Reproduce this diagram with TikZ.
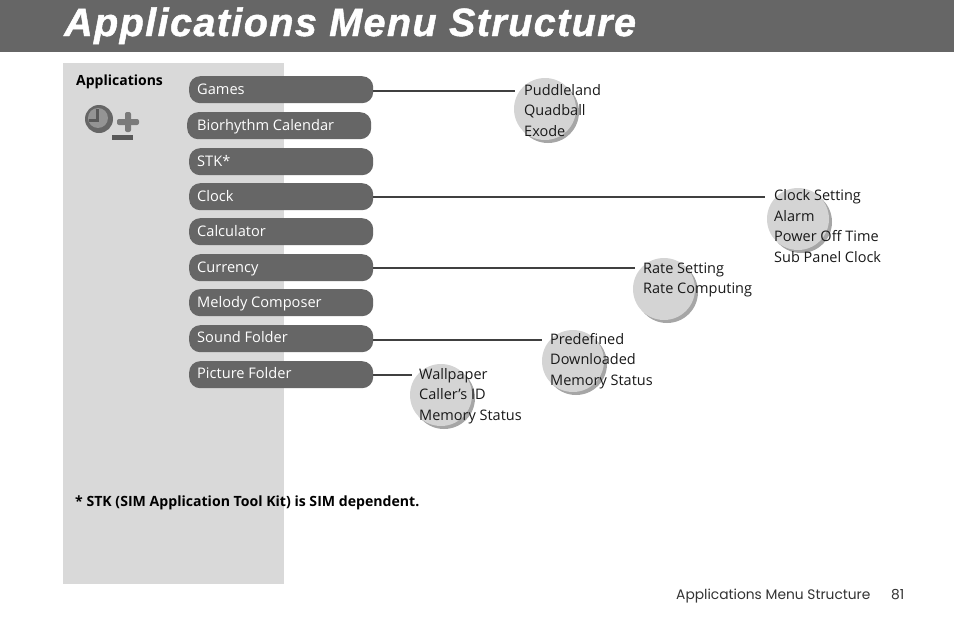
\documentclass[tikz,border=0pt]{standalone}
\usepackage{fontspec}
\setmainfont[Ligatures=NoCommon]{Open Sans}
\newfontfamily\titlefont[LetterSpace=3.6,BoldItalicFeatures={FakeBold=1.2}]{Liberation Sans}
\newfontfamily\footfont{Poppins}
\colorlet{barcol}{black!60}
\definecolor{panelcol}{gray}{0.85}
\definecolor{shadecol}{gray}{0.65}
\definecolor{disccol}{gray}{0.83}
\tikzset{
  x=1pt,y=-1pt,
  menubar/.style={fill=barcol,rounded corners=11pt,minimum width=184pt,minimum height=27pt,inner sep=0pt,anchor=north west},
  barlabel/.style={text=white,font=\fontsize{14.6}{14.6}\selectfont,anchor=base west,inner sep=0pt},
  listrow/.style={font=\fontsize{14.5}{14.5}\selectfont,anchor=base west,inner sep=0pt,text=black!90},
  disc/.style={circle,fill=disccol,minimum size=62pt,inner sep=0pt},
  discshade/.style={circle,fill=shadecol,minimum size=62pt,inner sep=0pt},
  linkline/.style={draw=black!75,line width=1.7pt},
}
\newcommand{\menuitem}[5]{%
  \node[menubar] (#1) at (#2,#3) {};
  \node[barlabel] (#1t) at (197,#4) {#5};
}
\newcommand{\roundel}[3]{%
  \node[discshade] (#1s) at (#2+3,#3+3) {};
  \node[disc] (#1) at (#2,#3) {};
}
\begin{document}
\begin{tikzpicture}
\useasboundingbox (0,0) rectangle (954,624);
\fill[white] (0,0) rectangle (954,624);
\fill[barcol] (0,0) rectangle (954,52);
\node[anchor=base west,inner sep=0pt,text=white,font=\titlefont\fontsize{39.5}{39.5}\selectfont\bfseries\itshape] (title) at (64,36) {Applications Menu Structure};
\fill[panelcol] (63,63) rectangle (284,584);
\node[anchor=base west,inner sep=0pt,font=\fontsize{14}{14}\selectfont\bfseries] (apps) at (76,85) {Applications};
% icon
\fill[black!60] (99,119) circle (14pt);
\fill[black!42] (98,118) circle (10pt);
\fill[black!65] (96,109) rectangle (99,120);
\fill[black!65] (89,119) rectangle (99,122);
\fill[black!52,rounded corners=2pt] (117,119) rectangle (139,125);
\fill[black!52,rounded corners=2pt] (125,112) rectangle (131,132);
\fill[black!65] (112,135) rectangle (133,140);
% discs
\roundel{d1}{545}{109}
\roundel{d2}{798}{219}
\roundel{d3}{664}{289}
\roundel{d4}{573}{361}
\roundel{d5}{441}{395}
% bars
\menuitem{games}{189}{76}{94}{Games}
\menuitem{bio}{187}{112}{130}{Biorhythm Calendar}
\menuitem{stk}{189}{148}{166}{STK*}
\menuitem{clock}{189}{183}{201}{Clock}
\menuitem{calc}{189}{218}{236}{Calculator}
\menuitem{curr}{189}{254}{272}{Currency}
\menuitem{melody}{189}{289}{307}{Melody Composer}
\menuitem{sound}{189}{325}{342}{Sound Folder}
\menuitem{pict}{189}{361}{378}{Picture Folder}
% lists
\node[listrow] (a1) at (524,95) {Puddleland};
\node[listrow] at (524,115) {Quadball};
\node[listrow] at (524,136) {Exode};
\node[listrow] (b1) at (774,200) {Clock Setting};
\node[listrow] at (774,221) {Alarm};
\node[listrow] at (774,241) {Power Off Time};
\node[listrow] at (774,262) {Sub Panel Clock};
\node[listrow] (c1) at (643,273) {Rate Setting};
\node[listrow] at (643,293) {Rate Computing};
\node[listrow] (e1) at (550,344) {Predefined};
\node[listrow] at (550,364) {Downloaded};
\node[listrow] at (550,385) {Memory Status};
\node[listrow] (f1) at (419,379) {Wallpaper};
\node[listrow] at (419,399) {Caller’s ID};
\node[listrow] at (419,420) {Memory Status};
% links
\draw[linkline] ([yshift=-1.5pt]games.east) -- ([xshift=-9pt,yshift=-1.5pt]games.east -| a1.west);
\draw[linkline] ([yshift=-0.5pt]clock.east) -- ([xshift=-9pt,yshift=-0.5pt]clock.east -| b1.west);
\draw[linkline] ([yshift=-0.5pt]curr.east) -- ([xshift=-8pt,yshift=-0.5pt]curr.east -| c1.west);
\draw[linkline] ([yshift=-1.5pt]sound.east) -- ([xshift=-8pt,yshift=-1.5pt]sound.east -| e1.west);
\draw[linkline] (pict.east) -- ([xshift=-7pt]pict.east -| f1.west);
\node[anchor=base west,inner sep=0pt,font=\fontsize{14.1}{14.1}\selectfont\bfseries] (note) at (75,506) {* STK (SIM Application Tool Kit) is SIM dependent.};
\node[anchor=base west,inner sep=0pt,text=black!80,font=\footfont\fontsize{13.8}{14}\selectfont] (foot) at (676,599) {Applications Menu Structure};
\node[anchor=base west,inner sep=0pt,text=black!80,font=\footfont\fontsize{13.8}{14}\selectfont] (page) at (891,599) {81};
\end{tikzpicture}
\end{document}
